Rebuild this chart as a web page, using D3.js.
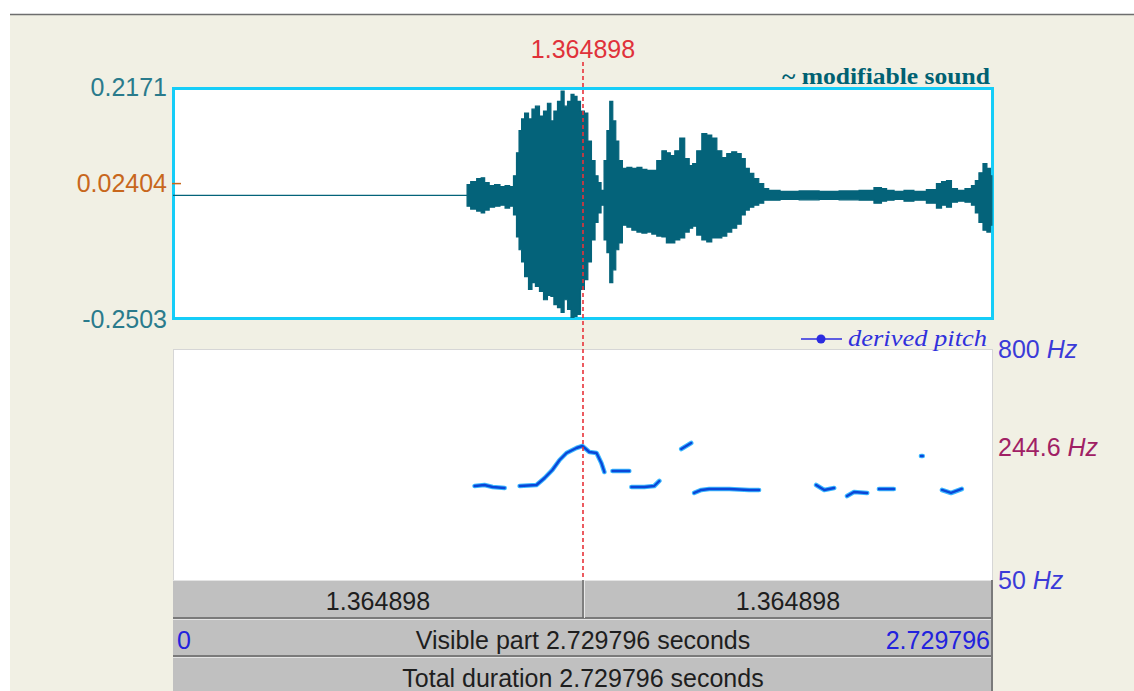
<!DOCTYPE html>
<html>
<head>
<meta charset="utf-8">
<script src="https://cdn.jsdelivr.net/npm/d3@7"></script>
<style>
  body { margin: 0; background: #fff; }
  svg { display: block; }
  text { font-family: "Liberation Sans", Arial, sans-serif; }
</style>
</head>
<body>
<svg id="chart" width="1134" height="691"></svg>
<script>
// --- data ---
const totalDuration = 2.729796
const cursorTime = 1.364898
const ampMin = -0.2503, ampMax = 0.2171, ampMark = 0.02404
const pitchFloor = 50, pitchCeiling = 800, pitchMark = 244.6

// waveform envelope (seconds, max amplitude, min amplitude)
const waveT = [0, 0.977, 0.981, 1.001, 1.021, 1.031, 1.044, 1.061, 1.080, 1.097, 1.114, 1.127, 1.140, 1.147,
  1.157, 1.164, 1.177, 1.190, 1.200, 1.213, 1.227, 1.240, 1.253, 1.263, 1.273, 1.287, 1.297, 1.307, 1.320,
  1.330, 1.340, 1.350, 1.363, 1.376, 1.386, 1.400, 1.410, 1.420, 1.430, 1.440, 1.449, 1.459, 1.469, 1.479,
  1.489, 1.503, 1.519, 1.536, 1.553, 1.569, 1.586, 1.602, 1.619, 1.636, 1.649, 1.662, 1.679, 1.695, 1.712,
  1.725, 1.735, 1.752, 1.769, 1.785, 1.802, 1.819, 1.835, 1.852, 1.868, 1.885, 1.898, 1.912, 1.925, 1.942,
  1.958, 1.975, 1.991, 2.051, 2.118, 2.184, 2.251, 2.317, 2.350, 2.367, 2.384, 2.417, 2.450, 2.483, 2.533,
  2.550, 2.567, 2.583, 2.600, 2.623, 2.650, 2.666, 2.676, 2.690, 2.703, 2.716, 2.726]
const waveMax = [0, 0, 0.022, 0.028, 0.034, 0.036, 0.026, 0.020, 0.022, 0.018, 0.020, 0.018, 0.040, 0.087,
  0.132, 0.156, 0.168, 0.156, 0.176, 0.182, 0.162, 0.172, 0.188, 0.152, 0.172, 0.192, 0.213, 0.182, 0.192,
  0.206, 0.202, 0.192, 0.172, 0.168, 0.111, 0.071, 0.040, 0.026, 0.010, 0.071, 0.132, 0.192, 0.152, 0.111,
  0.071, 0.055, 0.057, 0.055, 0.057, 0.053, 0.051, 0.051, 0.071, 0.091, 0.087, 0.081, 0.091, 0.117, 0.075,
  0.061, 0.065, 0.091, 0.126, 0.123, 0.117, 0.091, 0.077, 0.085, 0.089, 0.085, 0.075, 0.055, 0.045, 0.034,
  0.024, 0.014, 0.010, 0.008, 0.009, 0.008, 0.009, 0.010, 0.016, 0.014, 0.010, 0.008, 0.010, 0.008, 0.012,
  0.024, 0.028, 0.030, 0.014, 0.010, 0.014, 0.020, 0.030, 0.046, 0.065, 0.055, 0.040]
const waveMin = [0, 0, -0.022, -0.028, -0.032, -0.036, -0.030, -0.024, -0.022, -0.020, -0.026, -0.022, -0.040, -0.085,
  -0.111, -0.136, -0.166, -0.192, -0.178, -0.186, -0.196, -0.213, -0.204, -0.206, -0.223, -0.229, -0.239, -0.213, -0.233,
  -0.249, -0.247, -0.243, -0.192, -0.172, -0.136, -0.091, -0.055, -0.036, -0.020, -0.091, -0.117, -0.178, -0.152, -0.111,
  -0.097, -0.061, -0.065, -0.071, -0.075, -0.077, -0.075, -0.079, -0.083, -0.085, -0.097, -0.097, -0.091, -0.087, -0.075,
  -0.067, -0.063, -0.081, -0.091, -0.095, -0.087, -0.087, -0.083, -0.075, -0.067, -0.059, -0.040, -0.030, -0.024, -0.020,
  -0.016, -0.010, -0.010, -0.008, -0.009, -0.008, -0.009, -0.010, -0.016, -0.012, -0.010, -0.008, -0.012, -0.010, -0.016,
  -0.026, -0.020, -0.024, -0.014, -0.012, -0.014, -0.020, -0.036, -0.055, -0.071, -0.075, -0.061]

// pitch track (seconds, Hz); null breaks the line into voiced stretches
const pitchT = [1.004, 1.037, 1.064, 1.104, null, 1.154, 1.210, 1.237, 1.263, 1.287, 1.310, 1.343, 1.363, 1.386,
  1.410, 1.426, 1.436, null, 1.463, 1.519, null, 1.526, 1.569, 1.602, 1.619, null, 1.692, 1.725, null,
  1.735, 1.759, 1.785, 1.852, 1.918, 1.951, null, 2.141, 2.168, 2.201, null, 2.244, 2.267, 2.311, null,
  2.350, 2.400, null, 2.490, 2.496, null, 2.560, 2.590, 2.626]
const pitchHz = [154.5, 156.4, 152.7, 150.9, null, 154.5, 156.4, 170.1, 187.3, 211.1, 229.6, 243.8, 249.7, 232.4,
  229.6, 203.7, 182.8, null, 185.0, 185.0, null, 152.7, 152.7, 154.5, 164.1, null, 240.9, 258.9, null,
  142.1, 147.3, 149.1, 149.1, 147.3, 147.3, null, 156.4, 147.3, 150.9, null, 137.0, 143.8, 142.1, null,
  149.1, 149.1, null, 221.5, 221.5, null, 147.3, 142.1, 149.1]

const svg = d3.select('#chart')

// window background
svg.append('rect').attr('x', 10).attr('y', 15).attr('width', 1124).attr('height', 676).attr('fill', '#f1f0e4')
svg.append('line').attr('x1', 10).attr('x2', 1134).attr('y1', 14.5).attr('y2', 14.5)
  .attr('stroke', '#6e6e6e').attr('stroke-width', 1.5)

const x = d3.scaleLinear().domain([0, totalDuration]).range([173, 993])
const yWave = d3.scaleLinear().domain([ampMin, ampMax]).range([318, 89])
const yPitch = d3.scaleLog().domain([pitchFloor, pitchCeiling]).range([580, 349])

// ---- sound panel ----
svg.append('rect').attr('x', 173.5).attr('y', 88.5).attr('width', 819).attr('height', 230)
  .attr('fill', '#fff').attr('stroke', '#15cdf8').attr('stroke-width', 3)

const wave = waveT.map((t, i) => ({ t, hi: waveMax[i], lo: waveMin[i] }))
svg.append('path')
  .datum(wave)
  .attr('d', d3.area().curve(d3.curveStep).x(d => x(d.t)).y0(d => yWave(d.lo)).y1(d => yWave(d.hi)))
  .attr('fill', '#04637a')
  .attr('stroke', '#04637a')
  .attr('stroke-width', 1.2)

svg.append('text').attr('x', 990).attr('y', 84).attr('text-anchor', 'end')
  .style('font-family', '"Liberation Serif", "Times New Roman", serif')
  .attr('font-weight', 'bold').attr('font-size', 24).attr('fill', '#006172')
  .attr('textLength', 208).attr('lengthAdjust', 'spacingAndGlyphs')
  .text('~ modifiable sound')

const ampLabels = [
  { v: ampMax, c: '#2a7b8c' },
  { v: ampMark, c: '#c8671c' },
  { v: ampMin, c: '#2a7b8c' }
]
svg.selectAll('.amp').data(ampLabels).join('text')
  .attr('x', 167).attr('y', d => yWave(d.v) + (d.v === ampMax ? -2 : d.v === ampMin ? 1 : 0))
  .attr('dy', '0.35em').attr('text-anchor', 'end')
  .attr('font-size', 25).attr('fill', d => d.c)
  .text(d => d.v)
svg.append('line').attr('x1', 172).attr('x2', 181).attr('y1', yWave(ampMark)).attr('y2', yWave(ampMark))
  .attr('stroke', '#c8671c').attr('stroke-width', 1.5)

// ---- pitch panel ----
svg.append('rect').attr('x', 173.5).attr('y', 349.5).attr('width', 819).attr('height', 231)
  .attr('fill', '#fff').attr('stroke', '#d6d6d6')

const pitch = pitchT.map((t, i) => ({ t, f: pitchHz[i] }))
const pitchLine = d3.line().defined(d => d.t !== null).x(d => x(d.t)).y(d => yPitch(d.f))
svg.append('path').datum(pitch).attr('d', pitchLine)
  .attr('fill', 'none').attr('stroke', '#3cb8ff').attr('stroke-width', 4.6)
  .attr('stroke-linejoin', 'round').attr('stroke-linecap', 'round')
svg.append('path').datum(pitch).attr('d', pitchLine)
  .attr('fill', 'none').attr('stroke', '#0a46d8').attr('stroke-width', 2.4)
  .attr('stroke-linejoin', 'round').attr('stroke-linecap', 'round')

const legend = svg.append('g')
legend.append('line').attr('x1', 801).attr('x2', 842).attr('y1', 339).attr('y2', 339)
  .attr('stroke', '#2c2ce0').attr('stroke-width', 1.5)
legend.append('circle').attr('cx', 821).attr('cy', 339).attr('r', 4.5).attr('fill', '#2c2ce0')
legend.append('text').attr('x', 987).attr('y', 346).attr('text-anchor', 'end')
  .style('font-family', '"Liberation Serif", "Times New Roman", serif')
  .attr('font-style', 'italic').attr('font-size', 24).attr('fill', '#3030dc')
  .attr('textLength', 139).attr('lengthAdjust', 'spacingAndGlyphs')
  .text('derived pitch')

const pitchLabels = [
  { v: pitchCeiling, c: '#3b3bd8' },
  { v: pitchMark, c: '#a02064' },
  { v: pitchFloor, c: '#3b3bd8' }
]
const pl = svg.selectAll('.hz').data(pitchLabels).join('text')
  .attr('x', 998).attr('y', d => yPitch(d.v)).attr('dy', '0.35em')
  .attr('font-size', 25).attr('fill', d => d.c)
pl.append('tspan').text(d => d.v + ' ')
pl.append('tspan').attr('font-style', 'italic').text('Hz')

// ---- time bars ----
const rows = [
  { y: 580, h: 39 },
  { y: 619, h: 38 },
  { y: 657, h: 40 }
]
const bars = svg.append('g')
rows.forEach(r => {
  bars.append('rect').attr('x', 173).attr('y', r.y).attr('width', 820).attr('height', r.h).attr('fill', '#c0c0c0')
  bars.append('line').attr('x1', 173).attr('x2', 993).attr('y1', r.y + 0.5).attr('y2', r.y + 0.5)
    .attr('stroke', '#e4e4e4')
  bars.append('line').attr('x1', 173).attr('x2', 993).attr('y1', r.y + r.h - 1).attr('y2', r.y + r.h - 1)
    .attr('stroke', '#7a7a7a').attr('stroke-width', 2)
  bars.append('line').attr('x1', 992).attr('x2', 992).attr('y1', r.y).attr('y2', r.y + r.h)
    .attr('stroke', '#7a7a7a').attr('stroke-width', 2)
})
bars.append('line').attr('x1', x(cursorTime)).attr('x2', x(cursorTime)).attr('y1', 580).attr('y2', 618)
  .attr('stroke', '#6a6a6a').attr('stroke-width', 1.5)
bars.append('line').attr('x1', x(cursorTime) + 1.5).attr('x2', x(cursorTime) + 1.5).attr('y1', 580).attr('y2', 618)
  .attr('stroke', '#e8e8e8')

const fmt = d3.format('.6f')
const barText = [
  { x: (x(0) + x(cursorTime)) / 2, y: 610, a: 'middle', c: '#1e1e1e', s: fmt(cursorTime) },
  { x: (x(cursorTime) + x(totalDuration)) / 2, y: 610, a: 'middle', c: '#1e1e1e', s: fmt(totalDuration - cursorTime) },
  { x: 177, y: 649, a: 'start', c: '#2222dd', s: '0' },
  { x: 583, y: 649, a: 'middle', c: '#1e1e1e', s: 'Visible part ' + fmt(totalDuration) + ' seconds' },
  { x: 990, y: 649, a: 'end', c: '#2222dd', s: fmt(totalDuration) },
  { x: 583, y: 687, a: 'middle', c: '#1e1e1e', s: 'Total duration ' + fmt(totalDuration) + ' seconds' }
]
svg.selectAll('.bt').data(barText).join('text')
  .attr('x', d => d.x).attr('y', d => d.y).attr('text-anchor', d => d.a)
  .attr('font-size', 25).attr('fill', d => d.c).text(d => d.s)

// ---- cursor ----
svg.append('line').attr('x1', x(cursorTime)).attr('x2', x(cursorTime)).attr('y1', 62).attr('y2', 580)
  .attr('stroke', '#e8323a').attr('stroke-width', 1.6).attr('stroke-dasharray', '4,3')
svg.append('text').attr('x', x(cursorTime)).attr('y', 58).attr('text-anchor', 'middle')
  .attr('font-size', 25).attr('fill', '#e0323a').text(fmt(cursorTime))
</script>
</body>
</html>
